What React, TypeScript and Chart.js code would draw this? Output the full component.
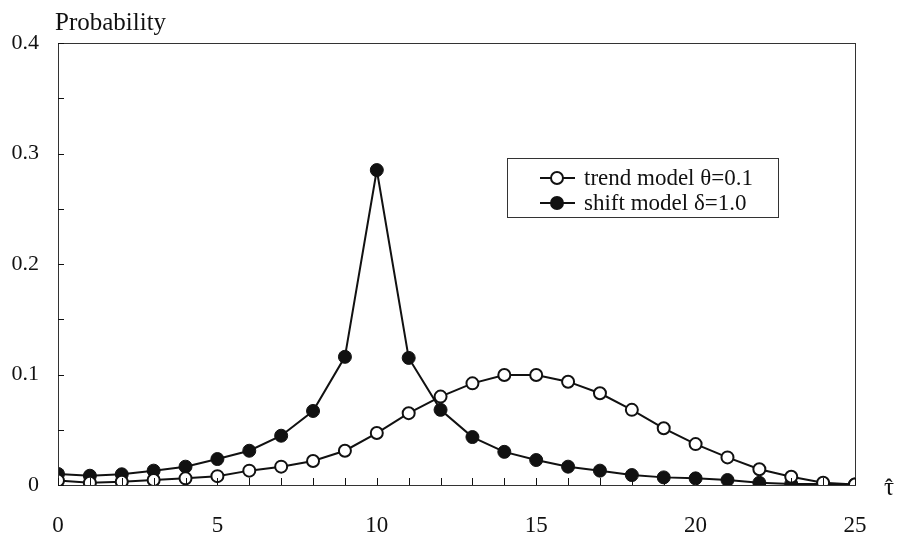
import React, { useEffect, useRef } from "react";
import { Chart, registerables } from "chart.js";

Chart.register(...registerables);

const tauValues = [0, 1, 2, 3, 4, 5, 6, 7, 8, 9, 10, 11, 12, 13, 14, 15, 16, 17, 18, 19, 20, 21, 22, 23, 24, 25];
const trendModel = [0.004, 0.002, 0.003, 0.0045, 0.006, 0.008, 0.013, 0.0166, 0.0217, 0.031, 0.047, 0.065, 0.080, 0.092, 0.0995, 0.0995, 0.0935, 0.083, 0.068, 0.0513, 0.037, 0.025, 0.0142, 0.0075, 0.002, 0.0005];
const shiftModel = [0.010, 0.0084, 0.0097, 0.013, 0.0166, 0.0235, 0.031, 0.0446, 0.067, 0.116, 0.285, 0.115, 0.068, 0.0434, 0.030, 0.0226, 0.0166, 0.013, 0.009, 0.0069, 0.006, 0.0045, 0.002, 0.001, 0.001, 0.0005];
const seriesNames = ["trend model θ=0.1", "shift model δ=1.0"];
const yTitle = "Probability";
const xTitle = "τ";
const xTitleHat = "ˆ";

const FONT = "'Liberation Serif', 'Times New Roman', serif";
const INK = "#111";

const decorPlugin = {
  id: "decor",
  afterDraw(chart: any) {
    const { ctx, chartArea, scales } = chart;
    const { left, right, top, bottom } = chartArea;
    ctx.save();
    // box
    ctx.strokeStyle = "#333";
    ctx.lineWidth = 1;
    ctx.strokeRect(left + 0.5, top + 0.5, right - left, bottom - top);
    // inside ticks
    ctx.strokeStyle = INK;
    ctx.beginPath();
    scales.y.ticks.forEach((t: any) => {
      const py = Math.round(scales.y.getPixelForValue(t.value)) + 0.5;
      ctx.moveTo(left, py);
      ctx.lineTo(left + 6, py);
    });
    scales.x.ticks.forEach((t: any) => {
      const px = Math.round(scales.x.getPixelForValue(t.value)) + 0.5;
      ctx.moveTo(px, bottom);
      ctx.lineTo(px, bottom - 7);
    });
    ctx.stroke();
    // axis titles
    ctx.fillStyle = INK;
    ctx.font = `25px ${FONT}`;
    ctx.textAlign = "left";
    ctx.textBaseline = "alphabetic";
    ctx.fillText(yTitle, 55, 30);
    ctx.font = `25px ${FONT}`;
    ctx.textAlign = "center";
    ctx.fillText(xTitle, 889, 495);
    ctx.font = `bold 22px ${FONT}`;
    ctx.fillText(xTitleHat, 889, 494);
    ctx.textAlign = "left";
    // legend
    const lx = 507, ly = 158, lw = 271, lh = 59;
    ctx.strokeStyle = "#333";
    ctx.lineWidth = 1;
    ctx.strokeRect(lx + 0.5, ly + 0.5, lw, lh);
    const rows = [178, 203];
    chart.data.datasets.forEach((ds: any, i: number) => {
      const y = rows[i];
      ctx.strokeStyle = INK;
      ctx.lineWidth = 2;
      ctx.beginPath();
      ctx.moveTo(540, y);
      ctx.lineTo(575, y);
      ctx.stroke();
      ctx.beginPath();
      ctx.arc(557, y, 6, 0, Math.PI * 2);
      ctx.fillStyle = ds.pointBackgroundColor;
      ctx.fill();
      ctx.stroke();
      ctx.fillStyle = INK;
      ctx.font = `23px ${FONT}`;
      ctx.textBaseline = "middle";
      ctx.fillText(ds.label, 584, y + 1);
    });
    ctx.restore();
  },
};

export default function App() {
  const ref = useRef<HTMLCanvasElement>(null);
  useEffect(() => {
    if (!ref.current) return;
    const mk = (vals: number[]) => tauValues.map((x, i) => ({ x, y: vals[i] }));
    const chart = new Chart(ref.current, {
      type: "line",
      data: {
        datasets: [
          {
            label: seriesNames[0],
            data: mk(trendModel),
            borderColor: INK,
            borderWidth: 2,
            pointRadius: 6,
            pointBorderWidth: 2,
            pointBackgroundColor: "#ffffff",
            pointBorderColor: INK,
            tension: 0,
          },
          {
            label: seriesNames[1],
            data: mk(shiftModel),
            borderColor: INK,
            borderWidth: 2,
            pointRadius: 6.5,
            pointBorderWidth: 1,
            pointBackgroundColor: INK,
            pointBorderColor: INK,
            tension: 0,
          },
        ],
      },
      options: {
        responsive: false,
        animation: false,
        layout: { padding: { left: 0, top: 43, right: 42, bottom: 0 } },
        plugins: { legend: { display: false }, tooltip: { enabled: false } },
        scales: {
          x: {
            type: "linear",
            min: 0,
            max: 25,
            border: { display: true, color: INK, width: 1 },
            grid: { display: false, drawTicks: false },
            ticks: {
              stepSize: 1,
              autoSkip: false,
              maxRotation: 0,
              padding: 27,
              color: INK,
              font: { family: FONT, size: 23 },
              callback: (v: any) => (Number(v) % 5 === 0 ? String(v) : ""),
            },
            afterFit: (s: any) => {
              s.height = 534 - 485;
            },
          },
          y: {
            min: 0,
            max: 0.4,
            border: { display: true, color: INK, width: 1 },
            grid: { display: false, drawTicks: false },
            ticks: {
              stepSize: 0.05,
              autoSkip: false,
              padding: 19,
              color: INK,
              font: { family: FONT, size: 22 },
              callback: (v: any) => {
                const n = Math.round(Number(v) * 100);
                if (n % 10 !== 0) return "";
                return n === 0 ? "0" : (n / 100).toFixed(1);
              },
            },
            afterFit: (s: any) => {
              s.width = 58;
            },
          },
        },
      },
      plugins: [decorPlugin],
    });
    return () => chart.destroy();
  }, []);
  return (
    <div style={{ position: "absolute", left: 0, top: 0, width: 897, height: 534, background: "#fff" }}>
      <canvas ref={ref} width={897} height={534} />
    </div>
  );
}
